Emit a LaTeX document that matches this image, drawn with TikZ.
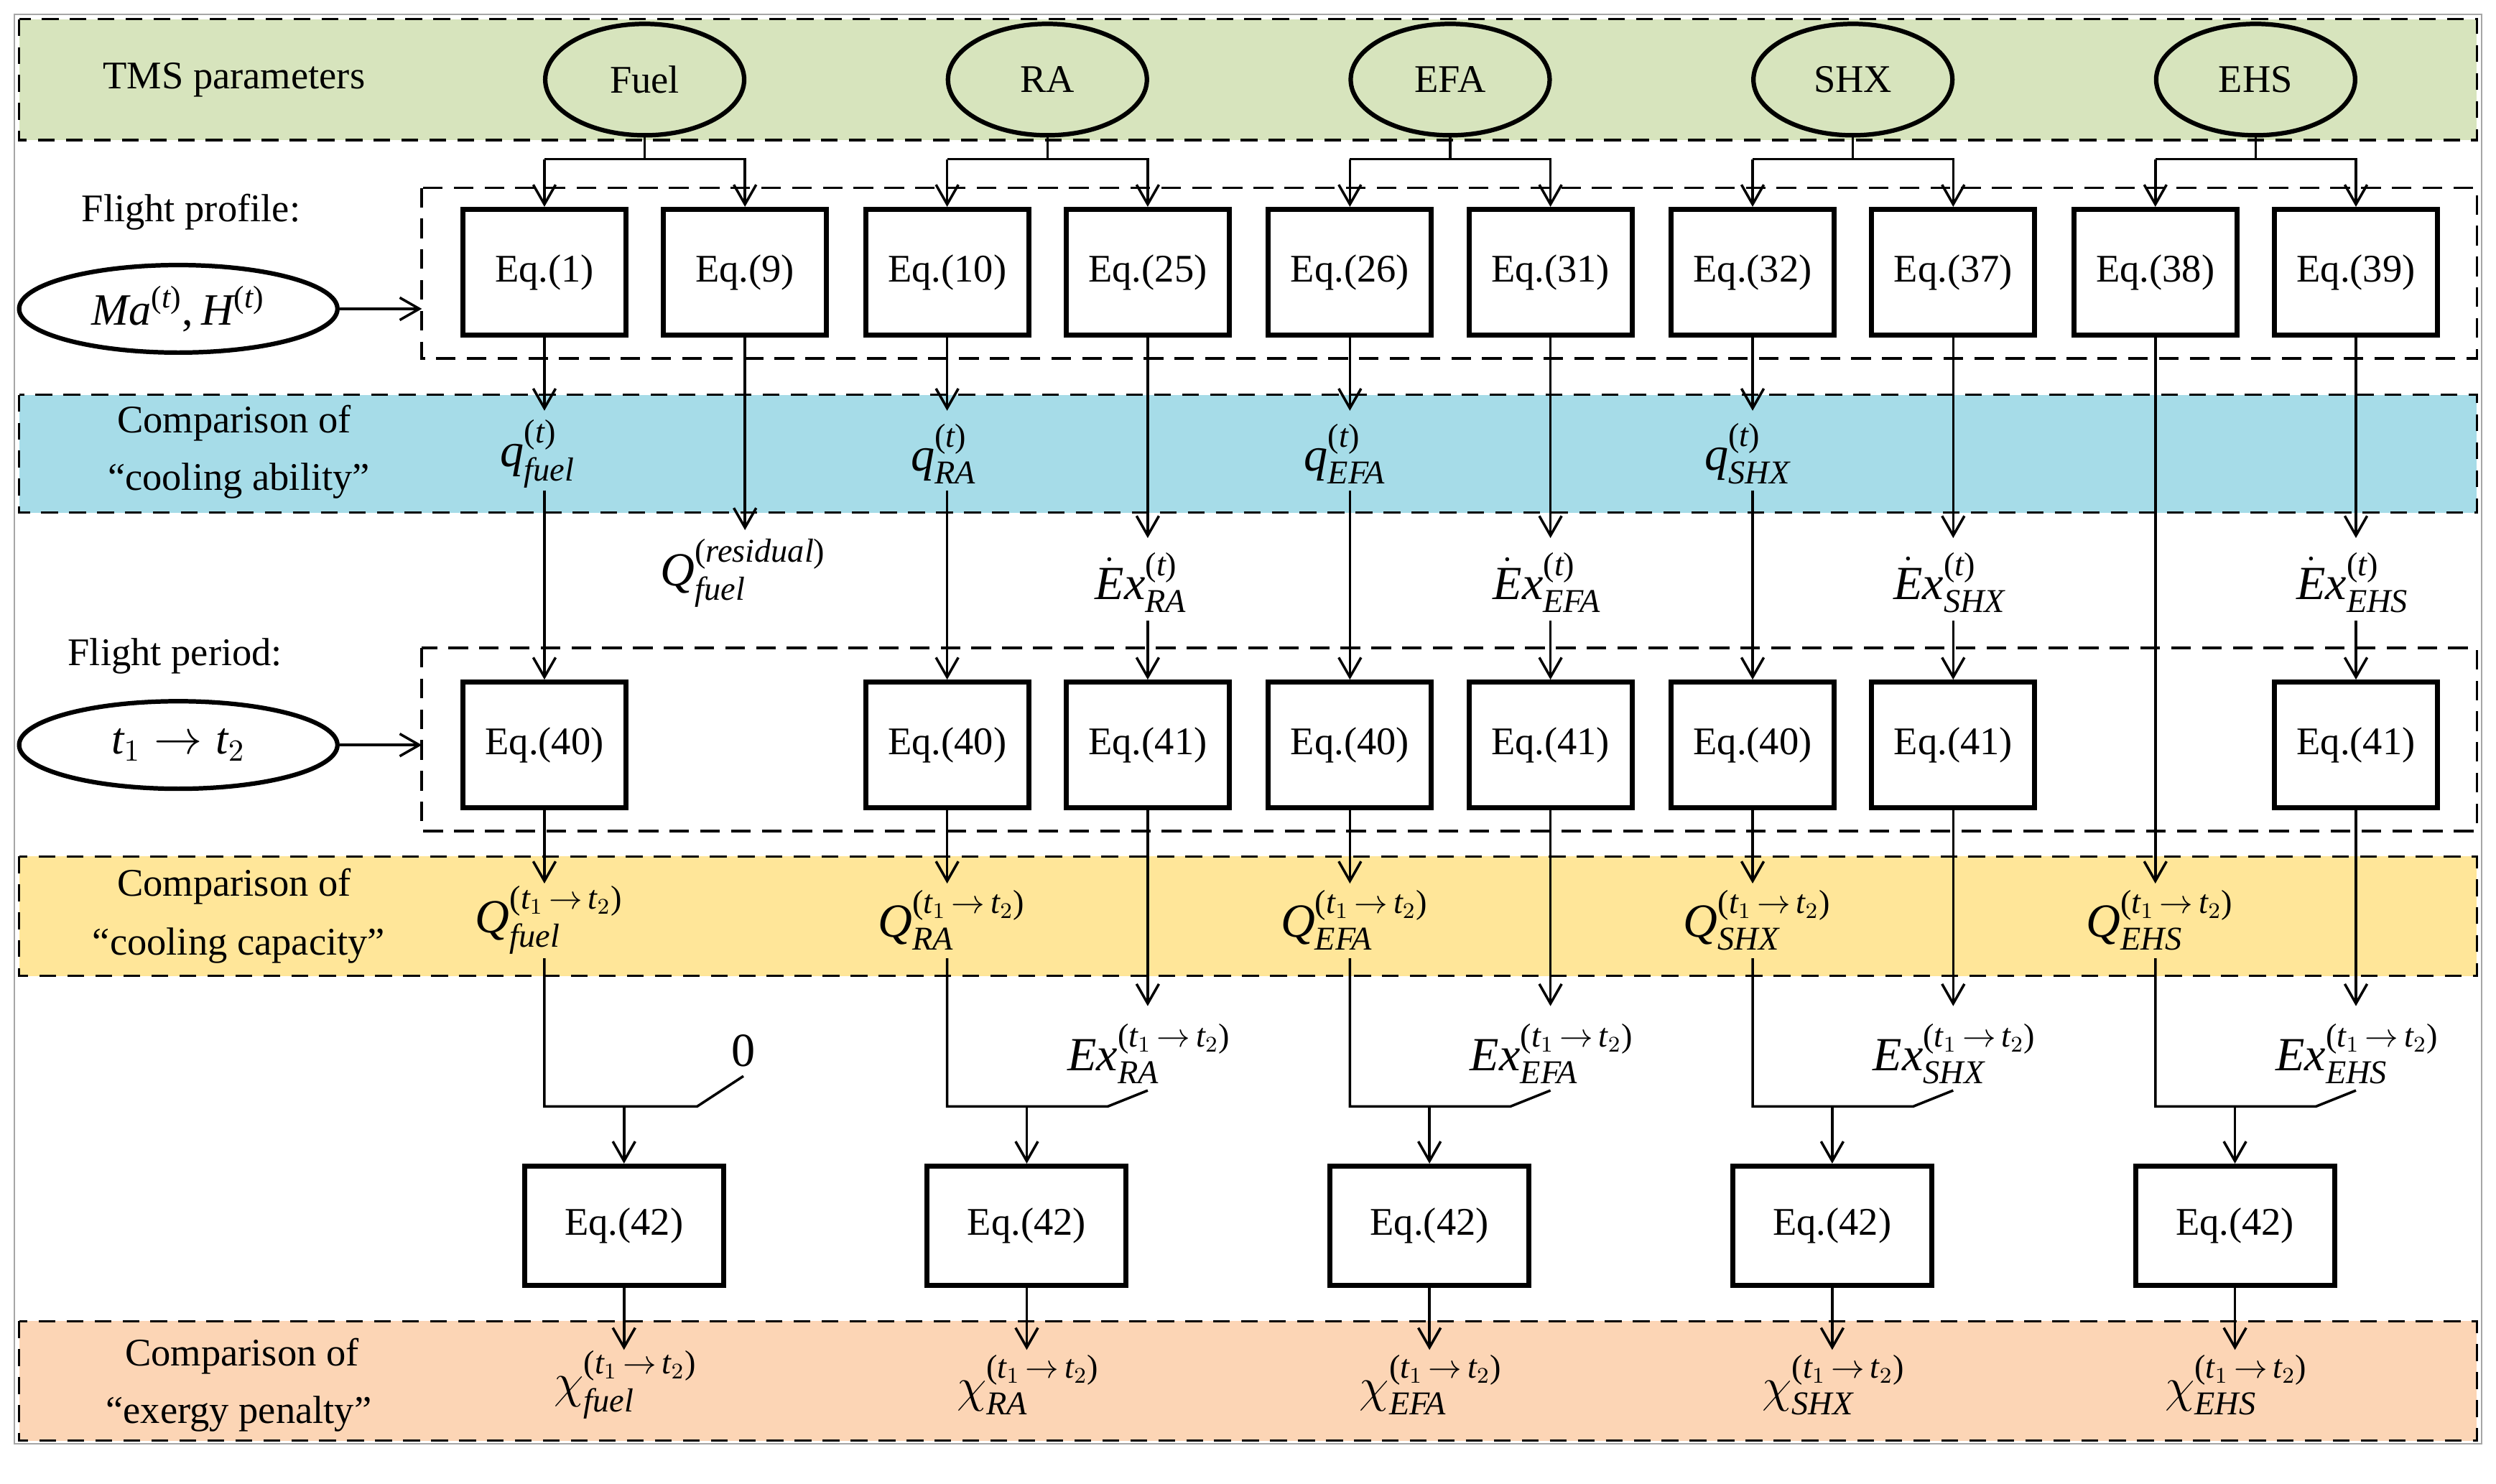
\documentclass[tikz,border=0pt]{standalone}
\usepackage{fontspec}
\usepackage{amsmath}
\setmainfont{Liberation Serif}
\usetikzlibrary{arrows.meta,shapes.geometric}
\newcommand{\ti}[1]{\text{\itshape #1}}
\newcommand{\ttt}{\text{\upshape(}\ti{t}_1\,{\rightarrow}\,\ti{t}_2\text{\upshape)}}
\newcommand{\tp}{\text{\upshape(}\ti{t}\text{\upshape)}}
\definecolor{cg}{RGB}{215,228,189}
\definecolor{cb}{RGB}{166,220,232}
\definecolor{cy}{RGB}{255,230,153}
\definecolor{co}{RGB}{252,213,181}
\begin{document}
\begin{tikzpicture}[x=0.02cm,y=-0.02cm,
  font=\fontsize{14}{16}\selectfont,
  band/.style={dash pattern=on 6pt off 4pt, line width=0.8pt},
  grp/.style={dash pattern=on 7pt off 4pt, line width=1pt},
  eq/.style={draw, line width=1.8pt, minimum width=2.05cm, minimum height=1.58cm, inner sep=0pt},
  eqb/.style={draw, line width=1.8pt, minimum width=2.5cm, minimum height=1.5cm, inner sep=0pt},
  ell/.style={draw, ellipse, line width=1.6pt, minimum width=2.5cm, minimum height=1.4cm, inner sep=0pt},
  arr/.style={-{Straight Barb[length=7pt,width=8pt,line width=0.9pt]}, line width=0.9pt},
  ln/.style={line width=0.9pt},
  lab/.style={inner sep=0pt, font=\fontsize{17}{19}\selectfont}]
\useasboundingbox (0,0) rectangle (1568,932);
\draw[gray!70, line width=0.6pt] (9,9) rectangle (1559,907);
% bands
\fill[cg] (12,12) rectangle (1556,88); \draw[band] (12,12) rectangle (1556,88);
\fill[cb] (12,248) rectangle (1556,322); \draw[band] (12,248) rectangle (1556,322);
\fill[cy] (12,538) rectangle (1556,613); \draw[band] (12,538) rectangle (1556,613);
\fill[co] (12,830) rectangle (1556,905); \draw[band] (12,830) rectangle (1556,905);
\node (tms) at (147,50) {TMS parameters};
\node (cab1) at (147,266) {Comparison of}; \node (cab2) at (150,302) {“cooling ability”};
\node (cca1) at (147,557) {Comparison of}; \node (cca2) at (150,594) {“cooling capacity”};
\node (cep1) at (152,852) {Comparison of}; \node (cep2) at (150,888) {“exergy penalty”};
\node (fp) at (120,133) {Flight profile:};
\node (fpd) at (110,412) {Flight period:};
% group boxes
\draw[grp] (265,118) rectangle (1556,225);
\draw[grp] (265,407) rectangle (1556,522);
\node[ell, minimum width=4cm, minimum height=1.1cm, font=\fontsize{16}{18}\selectfont] (ma) at (112,194) {$\ti{Ma}^{\tp}\text{,}\,\ti{H}^{\tp}$};
\node[ell, minimum width=4cm, minimum height=1.1cm, font=\fontsize{16}{18}\selectfont] (tt) at (112,468) {$\ti{t}_1\rightarrow\ti{t}_2$};
\coordinate (g1) at (265,194); \coordinate (g2) at (265,468);
\draw[arr] (ma) -- (g1);
\draw[arr] (tt) -- (g2);
% ellipses
\foreach \n/\t/\x in {fuel/Fuel/405, ra/RA/658, efa/EFA/911, shx/SHX/1164, ehs/EHS/1417}
  \node[ell] (\n) at (\x,50) {\t};
% row 1 eqs
\foreach \n/\t/\x in {e1/1/342, e9/9/468, e10/10/595, e25/25/721, e26/26/848, e31/31/974, e32/32/1101, e37/37/1227, e38/38/1354, e39/39/1480}
  \node[eq] (\n) at (\x,171) {Eq.(\t)};
\foreach \p/\a/\b in {fuel/e1/e9, ra/e10/e25, efa/e26/e31, shx/e32/e37, ehs/e38/e39}{
  \draw[ln] (\p.south) -- (\p.south |- 0,100);
  \draw[arr] (\a.north |- 0,100) -- (\b.north |- 0,100) -- (\b.north);
  \draw[arr] (\a.north |- 0,100) -- (\a.north);
}
% labels row 1
\node[lab] (qf) at (338,285) {$\ti{q}^{\tp}_{\ti{fuel}}$};
\node[lab] (qr) at (593,285) {$\ti{q}^{\tp}_{\ti{RA}}$};
\node[lab] (qe) at (845,285) {$\ti{q}^{\tp}_{\ti{EFA}}$};
\node[lab] (qs) at (1098,285) {$\ti{q}^{\tp}_{\ti{SHX}}$};
\node[lab] (qres) at (467,360) {$\ti{Q}^{\text{\upshape(}\ti{residual}\text{\upshape)}}_{\ti{fuel}}$};
\node[lab] (xr) at (717,366) {$\dot{\ti{E}}\ti{x}^{\tp}_{\ti{RA}}$};
\node[lab] (xe) at (972,366) {$\dot{\ti{E}}\ti{x}^{\tp}_{\ti{EFA}}$};
\node[lab] (xs) at (1225,366) {$\dot{\ti{E}}\ti{x}^{\tp}_{\ti{SHX}}$};
\node[lab] (xh) at (1478,366) {$\dot{\ti{E}}\ti{x}^{\tp}_{\ti{EHS}}$};
\draw[arr] (e1.south) -- (e1.south |- 0,258);
\draw[arr] (e10.south) -- (e10.south |- 0,258);
\draw[arr] (e26.south) -- (e26.south |- 0,258);
\draw[arr] (e32.south) -- (e32.south |- 0,258);
\draw[arr] (e9.south) -- (e9.south |- 0,333);
\foreach \a in {e25,e31,e37,e39} \draw[arr] (\a.south) -- (\a.south |- 0,338);
% row 2 eqs
\foreach \n/\t/\x in {f1/40/342, f3/40/595, f4/41/721, f5/40/848, f6/41/974, f7/40/1101, f8/41/1227, f10/41/1480}
  \node[eq] (\n) at (\x,468) {Eq.(\t)};
\foreach \a in {f1,f3,f5,f7} \draw[arr] (\a.north |- 0,308) -- (\a.north);
\foreach \a in {f4,f6,f8,f10} \draw[arr] (\a.north |- 0,390) -- (\a.north);
% row 2 labels
\node[lab] (Qf) at (345,578) {$\ti{Q}^{\ttt}_{\ti{fuel}}$};
\node[lab] (Qr) at (598,578) {$\ti{Q}^{\ttt}_{\ti{RA}}$};
\node[lab] (Qe) at (851,578) {$\ti{Q}^{\ttt}_{\ti{EFA}}$};
\node[lab] (Qs) at (1104,578) {$\ti{Q}^{\ttt}_{\ti{SHX}}$};
\node[lab] (Qh) at (1357,578) {$\ti{Q}^{\ttt}_{\ti{EHS}}$};
\foreach \a in {f1,f3,f5,f7} \draw[arr] (\a.south) -- (\a.south |- 0,555);
\draw[arr] (e38.south) -- (e38.south |- 0,555);
\foreach \a in {f4,f6,f8,f10} \draw[arr] (\a.south) -- (\a.south |- 0,632);
\node[lab] (zero) at (467,660) {0};
\node[lab] (Xr) at (722,662) {$\ti{Ex}^{\ttt}_{\ti{RA}}$};
\node[lab] (Xe) at (975,662) {$\ti{Ex}^{\ttt}_{\ti{EFA}}$};
\node[lab] (Xs) at (1228,662) {$\ti{Ex}^{\ttt}_{\ti{SHX}}$};
\node[lab] (Xh) at (1481,662) {$\ti{Ex}^{\ttt}_{\ti{EHS}}$};
% Eq 42
\foreach \n/\x in {h1/392, h2/645, h3/898, h4/1151, h5/1404}
  \node[eqb] (\n) at (\x,770) {Eq.(42)};
\draw[ln] (342,602) -- (342,695) -- (438,695) -- (467,676);
\foreach \c/\h in {595/696, 848/949, 1101/1202, 1354/1455}
  \draw[ln] (\c,602) -- (\c,695) -- (\h,695) -- (\h+25,685);
\foreach \n in {h1,h2,h3,h4,h5} {
  \draw[arr] (\n.north |- 0,695) -- (\n.north);
  \draw[arr] (\n.south) -- (\n.south |- 0,848);
}
\node[lab] (cf) at (393,870) {$\chi^{\ttt}_{\ti{fuel}}$};
\node[lab] (cr) at (646,870) {$\chi^{\ttt}_{\ti{RA}}$};
\node[lab] (ce) at (899,870) {$\chi^{\ttt}_{\ti{EFA}}$};
\node[lab] (cs) at (1152,870) {$\chi^{\ttt}_{\ti{SHX}}$};
\node[lab] (ch) at (1405,870) {$\chi^{\ttt}_{\ti{EHS}}$};
\end{tikzpicture}
\end{document}
